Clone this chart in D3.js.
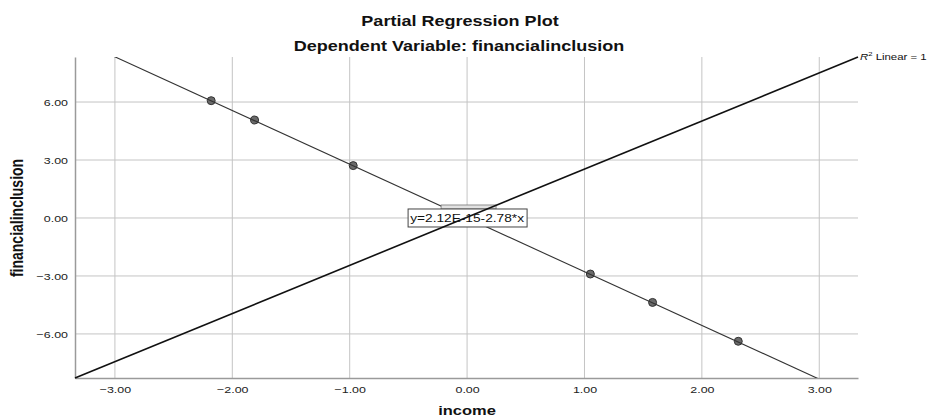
<!DOCTYPE html>
<html>
<head>
<meta charset="utf-8">
<script src="https://cdn.jsdelivr.net/npm/d3@7"></script>
<style>
  body { margin: 0; background: #fff; }
  svg text { font-family: "Liberation Sans", Arial, sans-serif; }
</style>
</head>
<body>
<svg class="chart" width="929" height="419"></svg>
<script>
// observed points (income residual, financialinclusion residual)
const incomeVals = [-2.18, -1.81, -0.97, 1.05, 1.58, 2.31];
const finVals = [6.07, 5.07, 2.71, -2.90, -4.37, -6.38];
const xTicks = [-3, -2, -1, 0, 1, 2, 3];
const yTicks = [-6, -3, 0, 3, 6];
const xDomain = [-3.34, 3.33];
const yDomain = [-8.28, 8.33];
const fitIntercept = 2.12e-15;
const fitSlope = -2.78;
const fitLabel = "y=2.12E-15-2.78*x";

// the source chart was stretched sideways, so all text is widened a bit
const sx = 1.27;

let svg = d3.select("svg.chart"),
    margin = {top: 57, bottom: 41, left: 75, right: 71},
    width = +svg.attr("width"),
    height = +svg.attr("height");

let x = d3.scaleLinear()
    .domain(xDomain)
    .range([margin.left, width - margin.right]);
let y = d3.scaleLinear()
    .domain(yDomain)
    .range([height - margin.bottom, margin.top]);

const fmt = d3.format(".2f");

function label(px, py, txt, size, bold, anchor) {
    return svg.append("text")
        .attr("transform", "translate(" + px + "," + py + ") scale(" + sx + ",1)")
        .attr("text-anchor", anchor || "middle")
        .style("font-size", size + "px")
        .style("font-weight", bold ? "bold" : "normal")
        .style("fill", "#111")
        .text(txt);
}

// titles
label(460, 26, "Partial Regression Plot", 14.2, true);
label(459, 51, "Dependent Variable: financialinclusion", 14.2, true);

// gridlines
svg.append("g")
    .selectAll("line")
    .data(xTicks)
    .join("line")
    .attr("x1", d => x(d)).attr("x2", d => x(d))
    .attr("y1", y.range()[1]).attr("y2", y.range()[0])
    .style("stroke", "#c4c4c4").style("stroke-width", 1);
svg.append("g")
    .selectAll("line")
    .data(yTicks)
    .join("line")
    .attr("x1", x.range()[0]).attr("x2", x.range()[1])
    .attr("y1", d => y(d)).attr("y2", d => y(d))
    .style("stroke", "#c4c4c4").style("stroke-width", 1);

// axes (no tick marks, just line + labels)
let xAxis = svg.append("g")
    .attr("transform", "translate(0," + y.range()[0] + ")")
    .call(d3.axisBottom(x).tickValues(xTicks).tickFormat(fmt).tickSize(0).tickPadding(8));
let yAxis = svg.append("g")
    .attr("transform", "translate(" + x.range()[0] + ",0)")
    .call(d3.axisLeft(y).tickValues(yTicks).tickFormat(fmt).tickSize(0).tickPadding(0));
[xAxis, yAxis].forEach(ax => {
    ax.select(".domain").style("stroke", "#9a9a9a").style("stroke-width", 1.5);
    ax.selectAll("text")
        .style("font-size", "9.8px")
        .style("font-family", "'Liberation Sans', Arial, sans-serif")
        .style("fill", "#222");
});
xAxis.selectAll(".tick text").attr("transform", "scale(" + sx + ",1)");
yAxis.selectAll(".tick text").attr("x", 0).attr("transform", "translate(-7,0) scale(" + sx + ",1)");

// axis titles
label(x(0), 415, "income", 13, true);
svg.append("text")
    .attr("transform", "translate(23," + y(0) + ") scale(" + sx + ",1) rotate(-90)")
    .attr("text-anchor", "middle")
    .style("font-size", "14px").style("font-weight", "bold").style("fill", "#111")
    .text("financialinclusion");

// clip to plot area
svg.append("clipPath").attr("id", "plot-clip")
    .append("rect")
    .attr("x", x.range()[0]).attr("y", y.range()[1])
    .attr("width", x.range()[1] - x.range()[0])
    .attr("height", y.range()[0] - y.range()[1]);

let pts = incomeVals.map((v, i) => ({x: v, y: finVals[i]}));

// points
svg.append("g")
    .selectAll("circle")
    .data(pts)
    .join("circle")
    .attr("cx", d => x(d.x)).attr("cy", d => y(d.y))
    .attr("r", 4)
    .style("fill", "#6a6a6a").style("stroke", "#333").style("stroke-width", 1);

// fit line y = a + b*x
let line = d3.line().x(d => x(d[0])).y(d => y(d[1]));
let fitPts = xDomain.map(v => [v, fitIntercept + fitSlope * v]);
svg.append("path")
    .datum(fitPts)
    .attr("clip-path", "url(#plot-clip)")
    .attr("d", line)
    .style("fill", "none").style("stroke", "#333").style("stroke-width", 1.1);

// equation label at origin
let lx = x(0), ly = y(0);
svg.append("rect")
    .attr("x", lx - 26).attr("y", ly - 13)
    .attr("width", 55).attr("height", 4)
    .style("fill", "#e2e2e2").style("stroke", "#777").style("stroke-width", 0.8);
svg.append("rect")
    .attr("x", lx - 59).attr("y", ly - 9)
    .attr("width", 119).attr("height", 18)
    .style("fill", "#fff").style("stroke", "#444").style("stroke-width", 1);
label(lx, ly + 4, fitLabel, 10.8, false);

// reference diagonal (corner to corner)
svg.append("path")
    .datum([[xDomain[0], yDomain[0]], [xDomain[1], yDomain[1]]])
    .attr("d", line)
    .style("fill", "none").style("stroke", "#111").style("stroke-width", 1.6);

// R² label
let r2 = label(x(xDomain[1]) + 2, y(yDomain[1]) + 3, null, 9, false, "start");
r2.append("tspan").style("font-style", "italic").text("R");
r2.append("tspan").attr("dy", -4).style("font-size", "6px").text("2");
r2.append("tspan").attr("dy", 4).text(" Linear = 1");
</script>
</body>
</html>
